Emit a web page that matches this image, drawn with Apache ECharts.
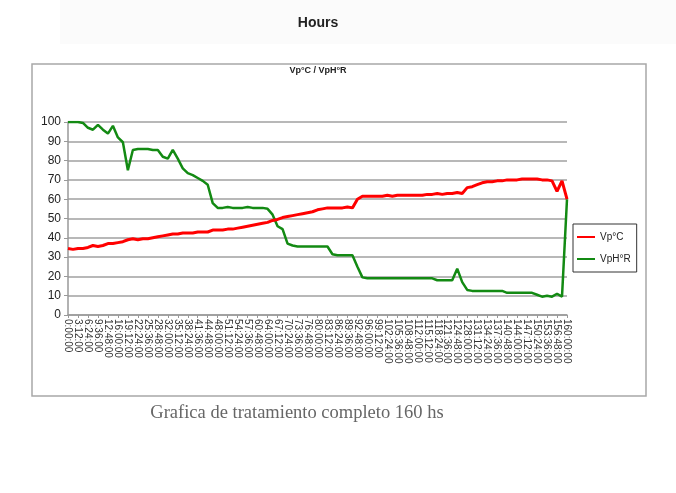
<!DOCTYPE html>
<html>
<head>
<meta charset="utf-8">
<script src="https://cdn.jsdelivr.net/npm/echarts@6/dist/echarts.min.js"></script>
<style>
html,body{margin:0;padding:0;background:#fff;}
#c{width:676px;height:493px;}
</style>
</head>
<body>
<div id="c"></div>
<script>
var categories = ["0:00:00","1:36:00","3:12:00","4:48:00","6:24:00","8:00:00","9:36:00","11:12:00","12:48:00","14:24:00",
"16:00:00","17:36:00","19:12:00","20:48:00","22:24:00","24:00:00","25:36:00","27:12:00","28:48:00","30:24:00",
"32:00:00","33:36:00","35:12:00","36:48:00","38:24:00","40:00:00","41:36:00","43:12:00","44:48:00","46:24:00",
"48:00:00","49:36:00","51:12:00","52:48:00","54:24:00","56:00:00","57:36:00","59:12:00","60:48:00","62:24:00",
"64:00:00","65:36:00","67:12:00","68:48:00","70:24:00","72:00:00","73:36:00","75:12:00","76:48:00","78:24:00",
"80:00:00","81:36:00","83:12:00","84:48:00","86:24:00","88:00:00","89:36:00","91:12:00","92:48:00","94:24:00",
"96:00:00","97:36:00","99:12:00","100:48:00","102:24:00","104:00:00","105:36:00","107:12:00","108:48:00","110:24:00",
"112:00:00","113:36:00","115:12:00","116:48:00","118:24:00","120:00:00","121:36:00","123:12:00","124:48:00","126:24:00",
"128:00:00","129:36:00","131:12:00","132:48:00","134:24:00","136:00:00","137:36:00","139:12:00","140:48:00","142:24:00",
"144:00:00","145:36:00","147:12:00","148:48:00","150:24:00","152:00:00","153:36:00","155:12:00","156:48:00","158:24:00",
"160:00:00"];

var vpC = [34.5,34,34.5,34.5,35,36,35.5,36,37,37,
37.5,38,39,39.5,39,39.5,39.5,40,40.5,41,
41.5,42,42,42.5,42.5,42.5,43,43,43,44,
44,44,44.5,44.5,45,45.5,46,46.5,47,47.5,
48,49,49.5,50.5,51,51.5,52,52.5,53,53.5,
54.5,55,55.5,55.5,55.5,55.5,56,55.5,60,61.5,
61.5,61.5,61.5,61.5,62,61.5,62,62,62,62,
62,62,62.5,62.5,63,62.5,63,63,63.5,63,
66,66.5,67.5,68.5,69,69,69.5,69.5,70,70,
70,70.5,70.5,70.5,70.5,70,70,69.5,64,69.5,
60];

var vpHR = [100,100,100,99.5,97,96,98.5,96,94,98,
92,89.5,75,85.5,86,86,86,85.5,85.5,82,
81,85.5,81,76,73.5,72.5,71,69.5,67.5,58,
55.5,55.5,56,55.5,55.5,55.5,56,55.5,55.5,55.5,
55,52,46,44.5,37,36,35.5,35.5,35.5,35.5,
35.5,35.5,35.5,31.5,31,31,31,31,25,19.5,
19,19,19,19,19,19,19,19,19,19,
19,19,19,19,18,18,18,18,24,17,
13,12.5,12.5,12.5,12.5,12.5,12.5,12.5,11.5,11.5,
11.5,11.5,11.5,11.5,10.5,9.5,10,9.5,11,9.5,
60];

var yTicks = [0,10,20,30,40,50,60,70,80,90,100];

var chart = echarts.init(document.getElementById('c'), null, {renderer:'canvas'});
var narrow = '"Liberation Sans Narrow","Liberation Sans",Arial,sans-serif';
chart.setOption({
  backgroundColor:'#ffffff',
  animation:false,
  graphic:[
    {type:'rect', left:60, top:0, shape:{width:616,height:44}, style:{fill:'#fbfbfb'}, z:-10},
    {type:'rect', shape:{x:32,y:64,width:614,height:332}, style:{fill:'none',stroke:'#a8a8a8',lineWidth:1.5}, z:-5},
    {type:'text', style:{text:'Hours', x:318, y:16, textAlign:'center', font:'bold 14px '+narrow, fill:'#222'}},
    {type:'text', style:{text:'Vp°C / VpH°R', x:318, y:66, textAlign:'center', font:'bold 9px '+narrow, fill:'#222'}},
    {type:'text', style:{text:'Grafica de tratamiento completo 160 hs', x:297, y:404, textAlign:'center', font:'18.5px "Liberation Serif","DejaVu Serif",serif', fill:'#666'}}
  ],
  grid:{left:68, right:109, top:122, bottom:178, containLabel:false},
  legend:{
    orient:'vertical', left:573, top:224, itemGap:12,
    borderColor:'#333', borderWidth:1, padding:[8,6,8,4],
    itemWidth:18, itemHeight:2, icon:'rect',
    textStyle:{fontSize:10, color:'#222', fontFamily:narrow},
    data:['Vp°C','VpH°R']
  },
  xAxis:{
    type:'category', data:categories, boundaryGap:false,
    axisLine:{show:true, lineStyle:{color:'#999', width:1.5}},
    axisTick:{show:true, interval:1, length:3, lineStyle:{color:'#999'}},
    axisLabel:{interval:1, rotate:-90, fontSize:10, color:'#333', fontFamily:narrow, margin:4},
    splitLine:{show:false}
  },
  yAxis:{
    type:'value', min:0, max:100, interval:10,
    axisLine:{show:true, lineStyle:{color:'#999', width:1.5}},
    axisTick:{show:true, length:4, lineStyle:{color:'#999'}},
    axisLabel:{fontSize:12, color:'#222', fontFamily:narrow, margin:7},
    splitLine:{show:true, lineStyle:{color:'#a0a0a0', width:1.5}}
  },
  series:[
    {name:'Vp°C', type:'line', data:vpC, symbol:'none',
     lineStyle:{color:'#ff0000', width:3}, itemStyle:{color:'#ff0000'}, z:3},
    {name:'VpH°R', type:'line', data:vpHR, symbol:'none',
     lineStyle:{color:'#138a13', width:2.5}, itemStyle:{color:'#138a13'}, z:2}
  ]
});
</script>
</body>
</html>
